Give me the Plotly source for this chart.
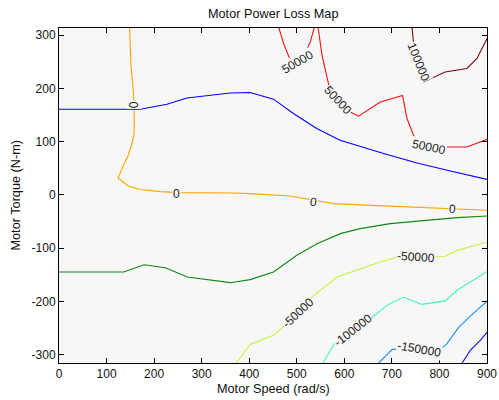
import plotly.graph_objects as go

# ---- data (speed in rad/s, torque in N-m) ----
zero_x = [148.4, 149.9, 151.4, 155.6, 157.7, 158.3, 156.9, 151.4, 144.2, 135.8, 128.9, 124.1,
          146.3, 170.9, 213, 255, 367, 402, 486, 528, 577, 670, 766, 902]
zero_y = [316, 285.2, 240.6, 203, 172.4, 127.8, 109, 90.2, 71.4, 55.8, 43.2, 32,
          16.4, 10.2, 6.4, 4.5, 3.8, 2.6, -1.9, -8, -16.2, -20, -23.7, -28.8]

blue_x = [0, 171, 227, 269, 360, 402, 451, 493, 542, 591, 682.5, 753, 823, 902]
blue_y = [161, 161, 170.5, 182.3, 191.7, 192.5, 180, 153, 124.8, 102.8, 77.8, 60, 45, 29]

green_x = [0, 136, 179, 223.5, 270, 307.6, 360, 402, 451, 500, 542.5, 591.5, 633.5, 696.5, 766.6, 837, 902]
green_y = [-144.7, -144.7, -131, -136.8, -154, -159, -164.7, -159, -144.7, -113.3, -91.4, -72.6,
           -63.2, -53.8, -47.6, -42.5, -39.5]

m50k_x = [372.8, 402, 451, 479, 503, 528, 584.5, 633.5, 675.5, 710.7, 791, 812, 837, 902]
m50k_y = [-316, -280.6, -263.7, -241.7, -218, -194.7, -154, -138.3, -126, -117, -115.2, -115.2, -104, -88.3]

m100k_x = [555, 571, 583, 620, 658, 689.6, 724, 763, 812, 837, 902.7]
m100k_y = [-316, -292, -273, -252, -230, -207.3, -191.7, -205.5, -198.9, -179, -142.5]

m150k_x = [672, 700.8, 758, 808.7, 815.8, 840, 864.8, 902.7]
m150k_y = [-316, -290, -288, -285.7, -279.3, -249.2, -227.4, -197.6]

m200k_x = [847.4, 864.8, 885.8, 902]
m200k_y = [-316, -292, -273, -256]

p50k_a_x = [461.7, 472.2, 486.3, 500, 517.8, 528.4, 537.4]
p50k_a_y = [316, 284.6, 253.2, 244, 265.8, 287.6, 316]

p50k_b_x = [544.6, 553, 567, 585, 612.5, 630, 675.5, 722.5, 731.7, 745.6, 760, 808.7, 857.8, 902]
p50k_b_y = [316, 262.6, 208, 180, 156, 148, 174.8, 186.8, 143.6, 112.2, 95, 90.2, 90.2, 105.3]

p100k_x = [742.2, 745.6, 755.5, 762, 766.6, 812, 857.8, 878.9, 902]
p100k_y = [316, 284.6, 243.8, 215.6, 212.4, 231.2, 237.6, 256.4, 297]

label_text = ["0", "0", "0", "0", "50000", "50000", "50000", "100000",
              "-50000", "-50000", "-100000", "-150000"]
label_x = [157.3, 247, 535, 827, 502, 586, 778, 755.5, 502, 751, 619, 756]
label_y = [170, 2, -13, -26, 249, 178, 90, 249.4, -221, -117, -254, -290]
label_angle = [-90, 0, 8, 3, -30, 47, 12, 68, -43, 4, -38, 10]

x_ticks = [0, 100, 200, 300, 400, 500, 600, 700, 800, 900]
x_tick_labels = ["0", "100", "200", "300", "400", "500", "600", "700", "800", "900"]
y_ticks = [-300, -200, -100, 0, 100, 200, 300]
y_tick_labels = ["-300", "-200", "-100", "0", "100", "200", "300"]

# ---- figure ----
FONT = "Liberation Sans, Arial, Helvetica, sans-serif"
BG = "#f7f7f7"

lines = [
    (zero_x, zero_y, "#ffa500"),
    (blue_x, blue_y, "#0000ff"),
    (green_x, green_y, "#128712"),
    (m50k_x, m50k_y, "#c4f53a"),
    (m100k_x, m100k_y, "#40f5c0"),
    (m150k_x, m150k_y, "#1a90ff"),
    (m200k_x, m200k_y, "#1010e8"),
    (p50k_a_x, p50k_a_y, "#ff1010"),
    (p50k_b_x, p50k_b_y, "#ff1010"),
    (p100k_x, p100k_y, "#7a0a0a"),
]

fig = go.Figure()
for xs, ys, col in lines:
    fig.add_trace(go.Scatter(x=xs, y=ys, mode="lines",
                             line=dict(color=col, width=1.1),
                             showlegend=False, hoverinfo="skip"))

annotations = []
for t, x, y, a in zip(label_text, label_x, label_y, label_angle):
    annotations.append(dict(x=x, y=y, xref="x", yref="y", text=t, showarrow=False,
                            textangle=a, font=dict(family=FONT, size=12, color="#222"),
                            bgcolor=BG, borderpad=0, xanchor="center", yanchor="middle"))

annotations += [
    dict(text="Motor Power Loss Map", x=0.5, y=1, xref="paper", yref="paper",
         yshift=14, showarrow=False, xanchor="center", yanchor="middle",
         font=dict(family=FONT, size=12.7, color="#111")),
    dict(text="Motor Speed (rad/s)", x=0.5, y=0, xref="paper", yref="paper",
         yshift=-26, showarrow=False, xanchor="center", yanchor="middle",
         font=dict(family=FONT, size=12.7, color="#111")),
    dict(text="Motor Torque (N-m)", x=0, y=0.5, xref="paper", yref="paper",
         xshift=-44, showarrow=False, xanchor="center", yanchor="middle", textangle=-90,
         font=dict(family=FONT, size=12.7, color="#111")),
]

axis_common = dict(showgrid=False, zeroline=False, showline=True, linecolor="black",
                   linewidth=1, mirror="allticks", ticks="inside", ticklen=5,
                   tickwidth=1, tickcolor="black", automargin=False,
                   tickfont=dict(family=FONT, size=12, color="#111"))

fig.update_layout(
    width=499, height=400,
    margin=dict(l=59, r=12, t=28, b=37),
    paper_bgcolor="white", plot_bgcolor=BG,
    xaxis=dict(range=[0, 900], tickvals=x_ticks, ticktext=x_tick_labels, **axis_common),
    yaxis=dict(range=[-315.6, 313.7], tickvals=y_ticks, ticktext=y_tick_labels, **axis_common),
    annotations=annotations,
    showlegend=False,
)

# remove the default page margin so the 499x400 figure fills the window exactly
fig.write_html("out.html",
               config={"displayModeBar": False, "staticPlot": True},
               post_script="document.body.style.margin='0px';document.body.style.overflow='hidden';")
